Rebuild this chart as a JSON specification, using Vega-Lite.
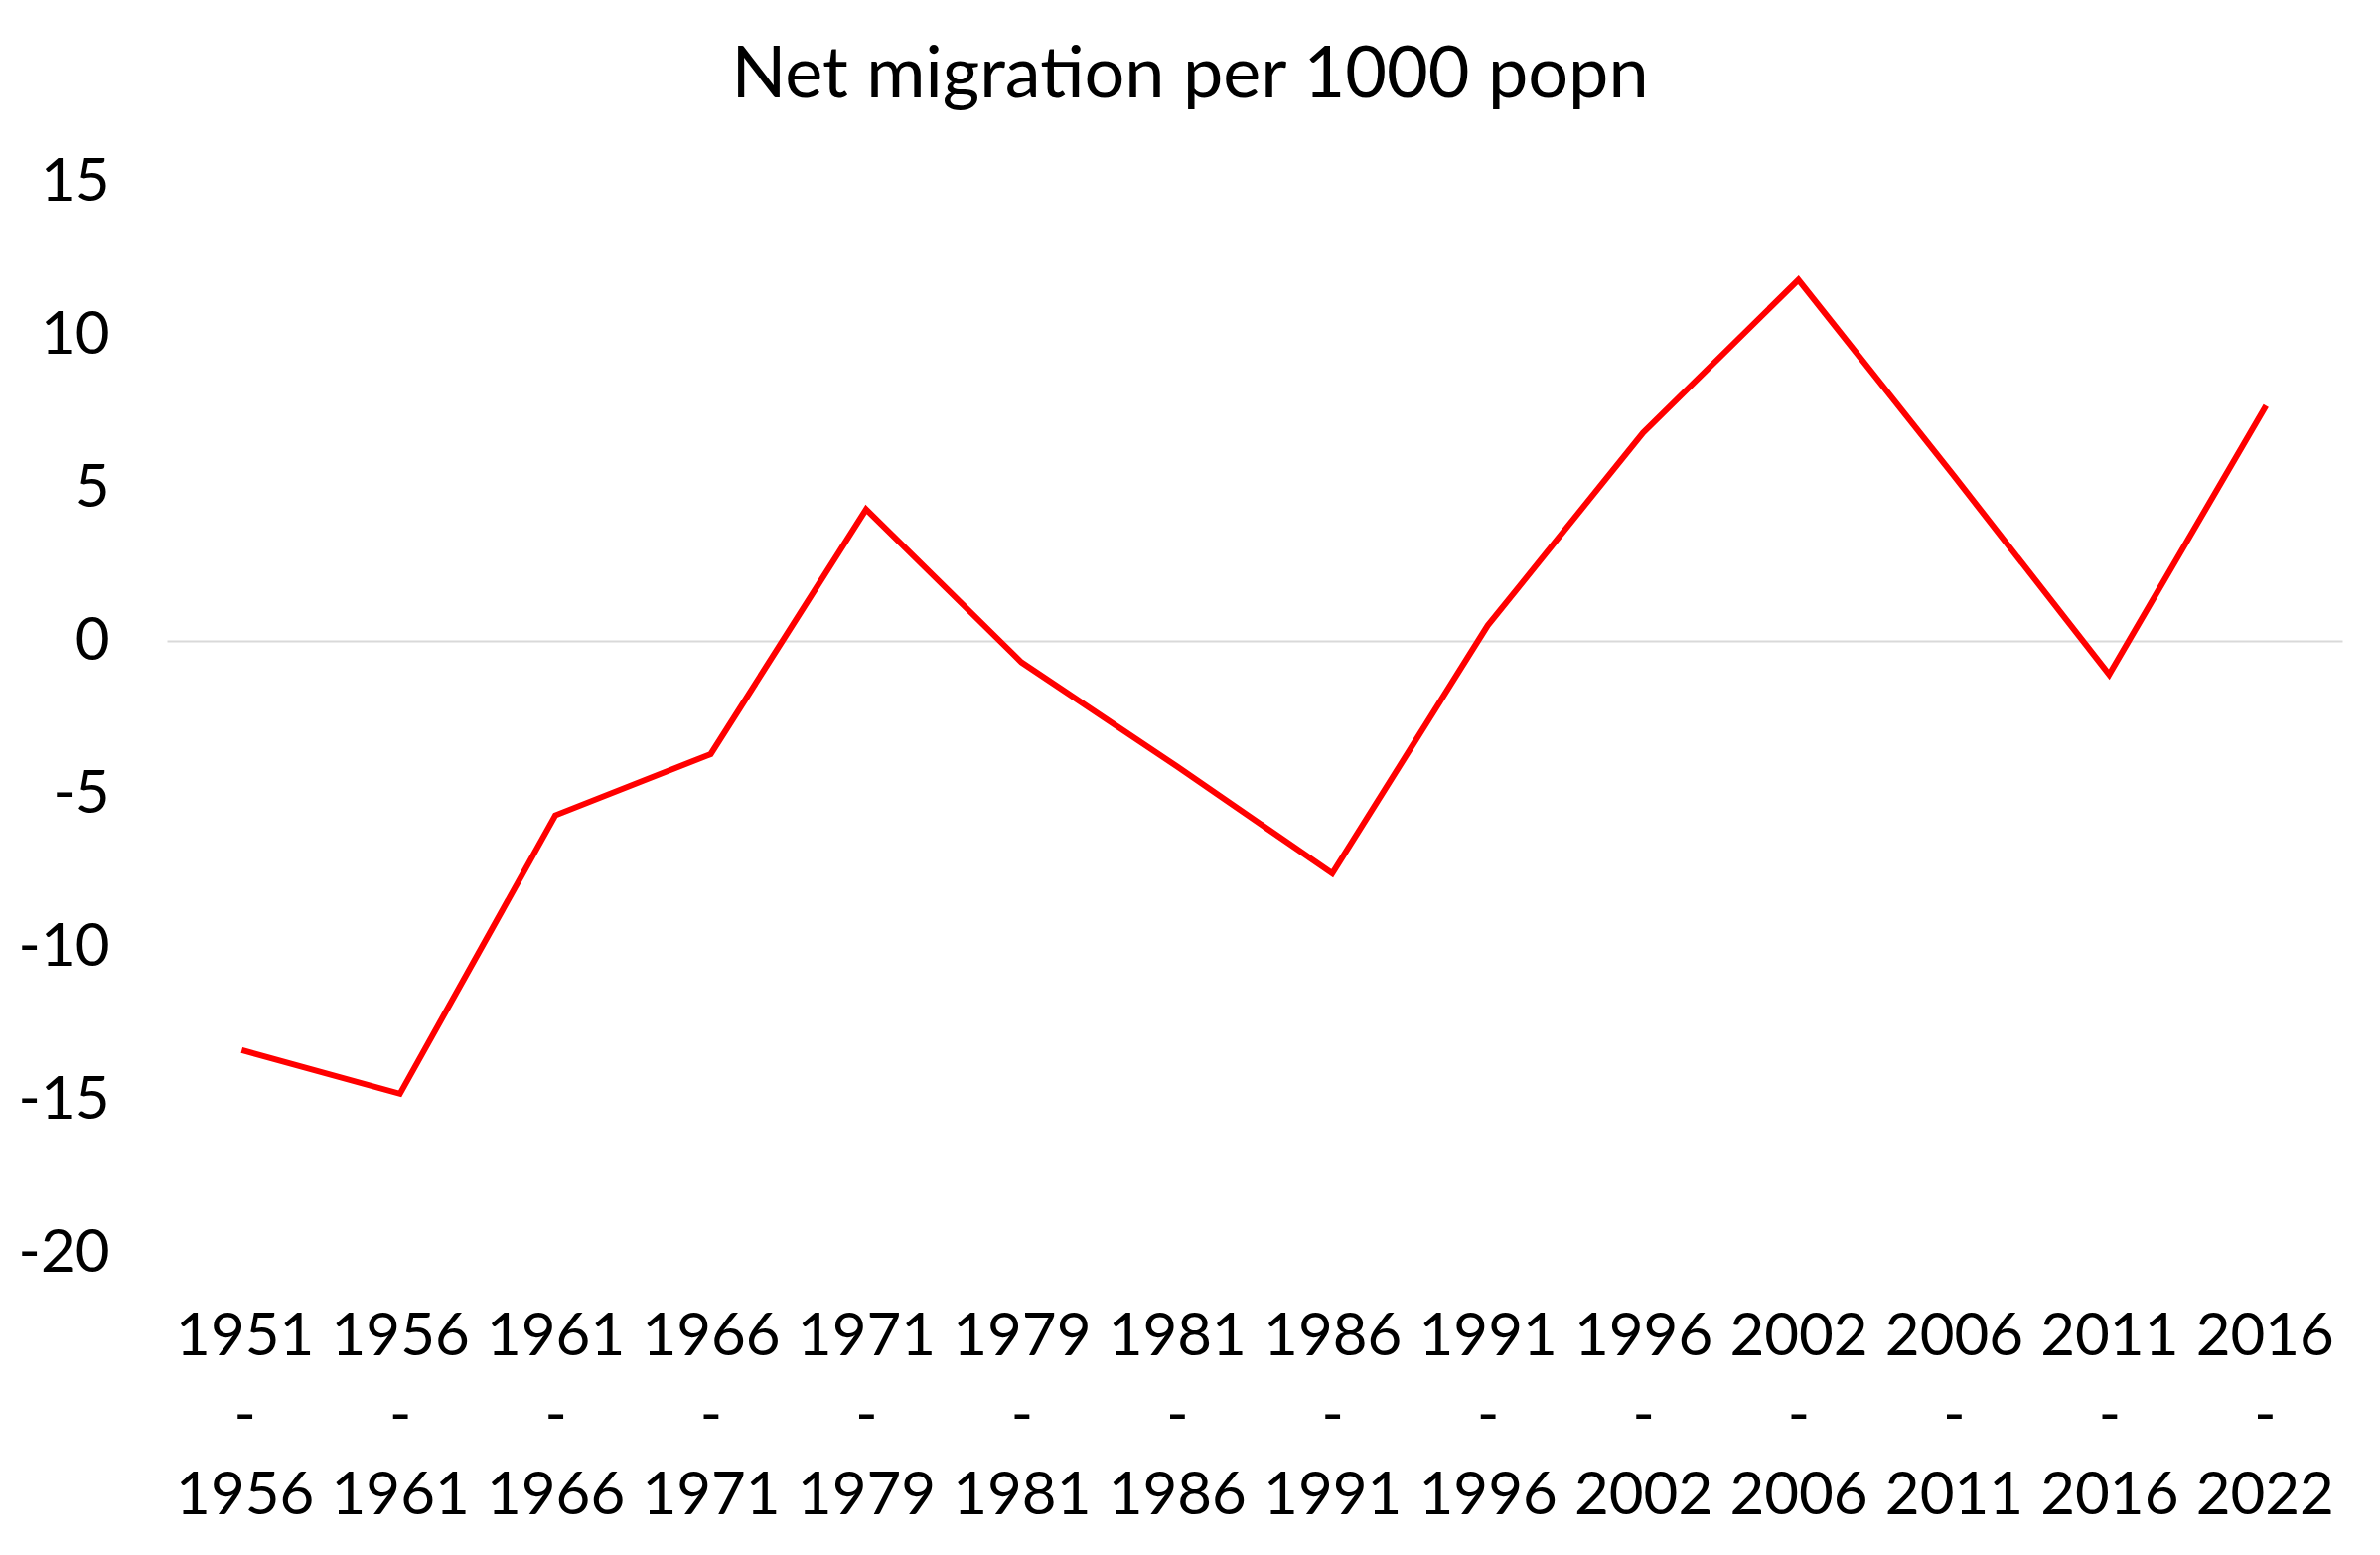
{
  "$schema": "https://vega.github.io/schema/vega-lite/v6.json",
  "width": 2190,
  "height": 1078,
  "autosize": {"type": "none"},
  "padding": {"left": 168, "top": 183, "right": 38, "bottom": 304},
  "background": "white",
  "config": {
    "view": {"stroke": null},
    "font": "Lato",
    "title": {"font": "Lato", "fontSize": 72, "fontWeight": "normal", "color": "#000000", "frame": "group", "anchor": "middle", "baseline": "alphabetic", "offset": 40, "dx": -65}
  },
  "title": {"text": "Net migration per 1000 popn"},
  "data": {
    "values": [
      {"period": "1951 - 1956", "rate": -13.4},
      {"period": "1956 - 1961", "rate": -14.8},
      {"period": "1961 - 1966", "rate": -5.7},
      {"period": "1966 - 1971", "rate": -3.7},
      {"period": "1971 - 1979", "rate": 4.3},
      {"period": "1979 - 1981", "rate": -0.7},
      {"period": "1981 - 1986", "rate": -4.1},
      {"period": "1986 - 1991", "rate": -7.6},
      {"period": "1991 - 1996", "rate": 0.5},
      {"period": "1996 - 2002", "rate": 6.8},
      {"period": "2002 - 2006", "rate": 11.8},
      {"period": "2006 - 2011", "rate": 5.4},
      {"period": "2011 - 2016", "rate": -1.1},
      {"period": "2016 - 2022", "rate": 7.6}
    ]
  },
  "mark": {"type": "line", "color": "#FF0000", "strokeWidth": 6, "strokeJoin": "miter", "strokeCap": "square"},
  "encoding": {
    "x": {
      "field": "period",
      "type": "ordinal",
      "sort": null,
      "scale": {"paddingInner": 0, "paddingOuter": 0.5},
      "axis": {
        "title": null,
        "domain": false,
        "ticks": false,
        "grid": false,
        "labelAngle": 0,
        "labelFont": "Lato",
        "labelFontSize": 60,
        "labelColor": "#000000",
        "labelBaseline": "top",
        "labelLineHeight": 80,
        "labelPadding": 55,
        "labelExpr": "split(datum.label, ' ')"
      }
    },
    "y": {
      "field": "rate",
      "type": "quantitative",
      "scale": {"domain": [-20, 15], "nice": false, "zero": false},
      "axis": {
        "title": null,
        "domain": false,
        "ticks": false,
        "values": [-20, -15, -10, -5, 0, 5, 10, 15],
        "labelFont": "Lato",
        "labelFontSize": 60,
        "labelColor": "#000000",
        "labelPadding": 58,
        "labelExpr": "datum.value + ''",
        "grid": true,
        "gridWidth": 2,
        "gridColor": {"condition": {"test": "datum.value === 0", "value": "#D9D9D9"}, "value": "transparent"}
      }
    }
  }
}
